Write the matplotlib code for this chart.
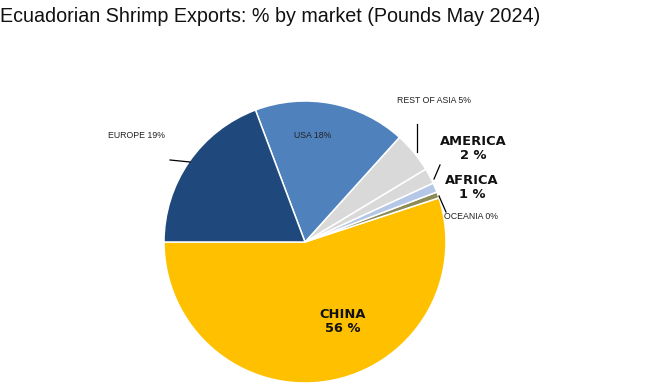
import matplotlib
matplotlib.use("Agg")
import matplotlib.pyplot as plt

markets = ["CHINA", "OCEANIA", "AFRICA", "AMERICA", "REST OF ASIA", "USA", "EUROPE"]
shares = [55.4, 0.7, 1.1, 1.8, 4.7, 17.5, 19.4]
pct_labels = ["56 %", "0%", "1 %", "2 %", "5%", "18%", "19%"]
colors = ["#FFC000", "#8C8A55", "#B4C7E7", "#D9D9D9", "#D9D9D9", "#4F81BD", "#1F497D"]
title = "Ecuadorian Shrimp Exports: % by market (Pounds May 2024)"

W, H = 656, 392
fig = plt.figure(figsize=(W / 100, H / 100), dpi=100)
ax = fig.add_axes([0, 0, 1, 1])

def Y(y):
    return H - y

ax.pie(shares, colors=colors, startangle=180, counterclock=True,
       center=(305, Y(242)), radius=141, frame=True,
       wedgeprops=dict(edgecolor="white", linewidth=1.1))
ax.set_xlim(0, W)
ax.set_ylim(0, H)
ax.set_aspect("equal")
ax.axis("off")

fig.text(0, 1 - 17 / H, title, fontsize=14.2, family="Liberation Sans",
         ha="left", va="center", color="#111111")

small = dict(fontsize=6.3, family="Liberation Sans", color="#222222", va="center")
bold = dict(fontsize=9.4, fontweight="bold", family="DejaVu Sans", color="#111111",
            ha="center", va="center", linespacing=1.1)

# EUROPE
ax.text(108, Y(135), f"{markets[6]} {pct_labels[6]}", ha="left", **small)
ax.plot([170, 190], [Y(160), Y(162)], color="black", lw=0.9)
# USA
ax.text(313, Y(135), f"{markets[5]} {pct_labels[5]}", ha="center", **small)
# REST OF ASIA
ax.text(397, Y(100), f"{markets[4]} {pct_labels[4]}", ha="left", **small)
ax.plot([417, 417], [Y(124), Y(152)], color="black", lw=0.9)
# AMERICA
ax.text(473, Y(148), f"{markets[3]}\n{pct_labels[3]}", **bold)
ax.plot([440, 434], [Y(165), Y(179)], color="black", lw=0.9)
# AFRICA
ax.text(472, Y(187), f"{markets[2]}\n{pct_labels[2]}", **bold)
# OCEANIA
ax.text(444, Y(216), f"{markets[1]} {pct_labels[1]}", ha="left", **small)
ax.plot([439, 446], [Y(196), Y(212)], color="black", lw=0.9)
# CHINA
ax.text(343, Y(322), f"{markets[0]}\n{pct_labels[0]}", **bold)

fig.savefig("out.png", dpi=100)
